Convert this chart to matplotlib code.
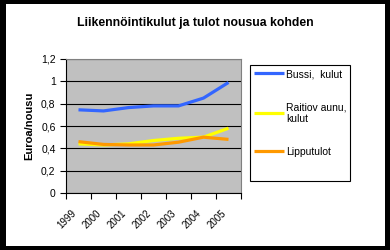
import matplotlib.pyplot as plt
from matplotlib.patches import Rectangle
from matplotlib.transforms import ScaledTranslation

# data
years = ['1999', '2000', '2001', '2002', '2003', '2004', '2005']
bussi = [0.745, 0.735, 0.765, 0.78, 0.78, 0.85, 0.99]
raitiovaunu = [0.44, 0.43, 0.44, 0.47, 0.49, 0.50, 0.58]
lipputulot = [0.46, 0.435, 0.43, 0.43, 0.455, 0.50, 0.48]
yticks = [0, 0.2, 0.4, 0.6, 0.8, 1.0, 1.2]
ytick_labels = ['0', '0,2', '0,4', '0,6', '0,8', '1', '1,2']

plt.rcParams['font.family'] = ['Liberation Sans', 'DejaVu Sans']

fig = plt.figure(figsize=(3.9, 2.5), dpi=100)
fig.patch.set_facecolor('black')
# white chart area inside black frame
fig.add_artist(Rectangle((6 / 390, 1 - 246 / 250), 379 / 390, 242 / 250,
                         transform=fig.transFigure, facecolor='white',
                         edgecolor='none', zorder=0))

ax = fig.add_axes([66 / 390, 1 - 193 / 250, 175 / 390, 134 / 250])
ax.set_facecolor('#c0c0c0')

x = [i + 0.5 for i in range(len(years))]
l1, = ax.plot(x, bussi, color='#3366ff', lw=2.3, solid_capstyle='butt')
l2, = ax.plot(x, raitiovaunu, color='#ffff00', lw=2.3, solid_capstyle='butt')
l3, = ax.plot(x, lipputulot, color='#ff9900', lw=2.3, solid_capstyle='butt')

ax.set_xlim(0, len(years))
ax.set_ylim(0, 1.2)
ax.set_yticks(yticks)
ax.set_yticklabels(ytick_labels, fontsize=7.5)
ax.grid(axis='y', color='black', lw=0.8)
ax.set_axisbelow(True)

# category ticks sit on the bin edges, labels slanted under each bin
ax.set_xticks(range(len(years) + 1))
ax.set_xticklabels([])
ax.tick_params(axis='x', length=4, width=0.8, direction='out')
ax.tick_params(axis='y', length=4, width=0.8, pad=3.5)
offset = ScaledTranslation(-7 / 100, -15 / 100, fig.dpi_scale_trans)
for xi, yr in zip(x, years):
    ax.text(xi, 0, yr, transform=ax.get_xaxis_transform() + offset,
            fontsize=7, rotation=45, ha='right', va='top',
            rotation_mode='anchor')

for side in ['top', 'right']:
    ax.spines[side].set_color('#808080')
    ax.spines[side].set_linewidth(0.8)
for side in ['left', 'bottom']:
    ax.spines[side].set_color('black')
    ax.spines[side].set_linewidth(0.8)

ax.set_ylabel('Euroa/nousu', fontsize=8, fontweight='bold', labelpad=5)

fig.text(195 / 390, 1 - 23 / 250, 'Liikennöintikulut ja tulot nousua kohden',
         ha='center', va='center', fontsize=8.8, fontweight='bold')

# legend box drawn separately so it can be as tall as in the original
fig.add_artist(Rectangle((250 / 390, 1 - 181 / 250), 100 / 390, 116 / 250,
                         transform=fig.transFigure, facecolor='white',
                         edgecolor='black', lw=0.8, zorder=2))
leg = fig.legend([l1, l2, l3], ['Bussi,  kulut', 'Raitiov aunu,\nkulut', 'Lipputulot'],
                 loc='upper left', bbox_to_anchor=(251 / 390, 1 - 66 / 250),
                 bbox_transform=fig.transFigure, fontsize=7.5, frameon=False,
                 handlelength=2.9, handletextpad=0.2, borderpad=0.3,
                 labelspacing=2.2, borderaxespad=0)
leg.set_zorder(3)

fig.savefig('out.png', dpi=100, facecolor=fig.get_facecolor())
